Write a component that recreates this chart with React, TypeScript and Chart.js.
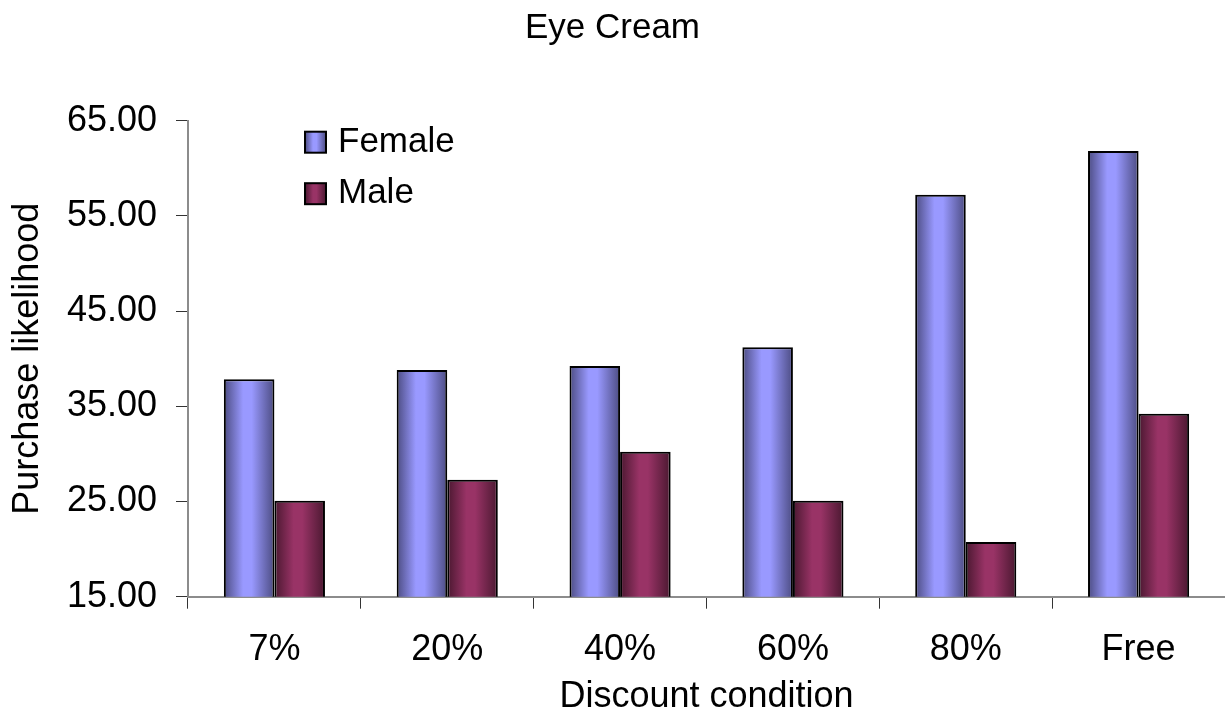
import React, { useEffect, useRef } from "react";
import { Chart, registerables } from "chart.js";

Chart.register(...registerables);

const categories = ["7%", "20%", "40%", "60%", "80%", "Free"];
const femaleValues = [37.84, 38.81, 39.23, 41.2, 57.23, 61.82];
const maleValues = [25.08, 27.29, 30.23, 25.08, 20.75, 34.22];
const yTicks = [15, 25, 35, 45, 55, 65];

const chartTitle = "Eye Cream";
const xTitle = "Discount condition";
const yTitle = "Purchase likelihood";
const seriesNames = ["Female", "Male"];

const FONT = "'Liberation Sans', Arial, sans-serif";
const GROUP_PCT = 0.585;

const palettes = [
  { dark: "#4c4c82", light: "#9999ff", flat: "#9999ff" },
  { dark: "#4a1830", light: "#993366", flat: "#993366" },
];

function makeGradient(ctx: CanvasRenderingContext2D, left: number, width: number, pal: { dark: string; light: string }) {
  const g = ctx.createLinearGradient(left, 0, left + width, 0);
  g.addColorStop(0, pal.dark);
  g.addColorStop(0.38, pal.light);
  g.addColorStop(0.55, pal.light);
  g.addColorStop(1, pal.dark);
  return g;
}

function barFill(datasetIndex: number) {
  return (c: any) => {
    const pal = palettes[datasetIndex];
    const chart = c.chart;
    const xs = chart.scales && chart.scales.x;
    if (!xs || c.type !== "data" || !chart.chartArea) return pal.flat;
    const center = xs.getPixelForValue(c.dataIndex);
    const catW = xs.width / categories.length;
    const bw = (catW * GROUP_PCT) / 2;
    const left = datasetIndex === 0 ? center - bw : center;
    return makeGradient(chart.ctx, left, bw, pal);
  };
}

const legendPlugin = {
  id: "insideLegend",
  afterDraw(chart: any) {
    const { ctx, chartArea } = chart;
    const size = 21;
    const bx = chartArea.left + 117;
    const by = chartArea.top + 11;
    const gap = 51.5;
    ctx.save();
    seriesNames.forEach((name, i) => {
      const y = by + i * gap;
      ctx.fillStyle = makeGradient(ctx, bx, size, palettes[i]);
      ctx.fillRect(bx, y, size, size);
      ctx.lineWidth = 2;
      ctx.strokeStyle = "#000";
      ctx.strokeRect(bx, y, size, size);
      ctx.fillStyle = "#000";
      ctx.font = `35px ${FONT}`;
      ctx.textAlign = "left";
      ctx.textBaseline = "middle";
      ctx.fillText(name, bx + 33, y + size / 2);
    });
    ctx.restore();
  },
};

export default function App() {
  const ref = useRef<HTMLCanvasElement>(null);

  useEffect(() => {
    if (!ref.current) return;
    const chart = new Chart(ref.current, {
      type: "bar",
      data: {
        labels: categories,
        datasets: [
          {
            label: seriesNames[0],
            data: femaleValues,
            backgroundColor: barFill(0),
            borderColor: "#000",
            borderWidth: 2,
            borderSkipped: false,
            categoryPercentage: GROUP_PCT,
            barPercentage: 1,
          },
          {
            label: seriesNames[1],
            data: maleValues,
            backgroundColor: barFill(1),
            borderColor: "#000",
            borderWidth: 2,
            borderSkipped: false,
            categoryPercentage: GROUP_PCT,
            barPercentage: 1,
          },
        ],
      },
      options: {
        responsive: false,
        animation: false,
        layout: { padding: 0 },
        plugins: {
          legend: { display: false },
          tooltip: { enabled: false },
          title: {
            display: true,
            text: chartTitle,
            color: "#000",
            font: { family: FONT, size: 35, weight: "normal", lineHeight: 1.2 },
            padding: { top: 7, bottom: 71.7 },
          },
        },
        scales: {
          x: {
            type: "category",
            offset: true,
            grid: {
              drawOnChartArea: false,
              drawTicks: true,
              tickLength: 12,
              color: "#333",
              offset: true,
            },
            border: { display: true, color: "#8c8c8c", width: 2 },
            ticks: {
              color: "#000",
              font: { family: FONT, size: 36, lineHeight: 1.2 },
              padding: 20,
              maxRotation: 0,
              autoSkip: false,
            },
            title: {
              display: true,
              text: xTitle,
              color: "#000",
              font: { family: FONT, size: 36, lineHeight: 1.2 },
              padding: { top: 0, bottom: 0 },
            },
            afterFit(scale: any) {
              scale.height = 122.3;
            },
          },
          y: {
            min: 15,
            max: 65,
            grid: {
              drawOnChartArea: false,
              drawTicks: true,
              tickLength: 12,
              color: "#333",
            },
            border: { display: true, color: "#8c8c8c", width: 2 },
            afterBuildTicks(scale: any) {
              scale.ticks = yTicks.map((v) => ({ value: v }));
            },
            ticks: {
              color: "#000",
              font: { family: FONT, size: 36, lineHeight: 1.2 },
              padding: 19,
              callback: (v: any) => Number(v).toFixed(2),
            },
            title: {
              display: true,
              text: yTitle,
              color: "#000",
              font: { family: FONT, size: 36, lineHeight: 1.2 },
              padding: { top: 6.6, bottom: 0 },
            },
            afterFit(scale: any) {
              scale.width = 188;
            },
          },
        },
      },
      plugins: [legendPlugin],
    });
    return () => chart.destroy();
  }, []);

  return (
    <div
      style={{
        position: "fixed",
        left: 0,
        top: 0,
        width: 1225,
        height: 719,
        background: "#fff",
      }}
    >
      <canvas ref={ref} width={1225} height={719} style={{ display: "block" }} />
    </div>
  );
}
